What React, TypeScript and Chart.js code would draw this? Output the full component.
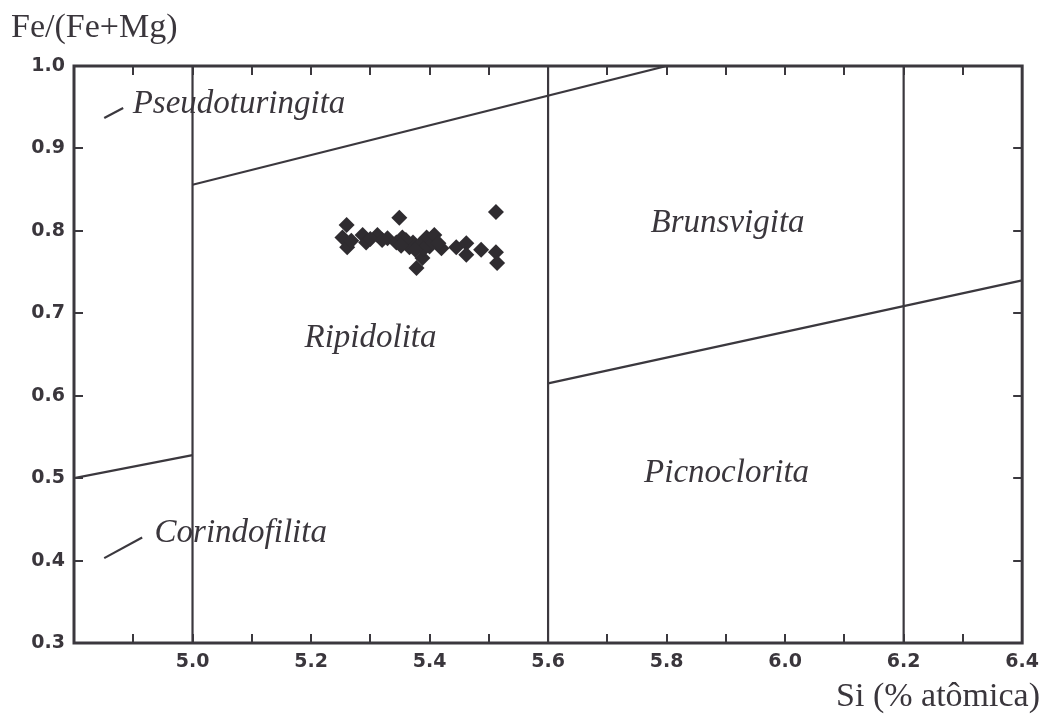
import React, { useEffect, useRef } from "react";
import { Chart, registerables } from "chart.js";

Chart.register(...registerables);

// ---- data ----
const siValues = [5.26, 5.253, 5.261, 5.287, 5.293, 5.349, 5.312, 5.329, 5.344, 5.354, 5.366, 5.378, 5.388, 5.395, 5.405, 5.408, 5.42, 5.445, 5.462, 5.462, 5.487, 5.512, 5.514, 5.512, 5.372, 5.383, 5.4, 5.36, 5.39, 5.3, 5.415, 5.268, 5.32, 5.376, 5.352];
const feValues = [0.807, 0.792, 0.78, 0.795, 0.786, 0.816, 0.795, 0.791, 0.786, 0.792, 0.78, 0.755, 0.767, 0.792, 0.789, 0.795, 0.779, 0.78, 0.785, 0.771, 0.777, 0.774, 0.761, 0.823, 0.786, 0.783, 0.781, 0.789, 0.778, 0.79, 0.785, 0.788, 0.789, 0.777, 0.782];

const xTickLabels = [5.0, 5.2, 5.4, 5.6, 5.8, 6.0, 6.2, 6.4];
const yTickLabels = [0.3, 0.4, 0.5, 0.6, 0.7, 0.8, 0.9, 1.0];

// boundary lines [x0, x1], [y0, y1]
const vLine50X = [5.0, 5.0];
const vLine50Y = [0.3, 1.0];
const vLine56X = [5.6, 5.6];
const vLine56Y = [0.3, 1.0];
const vLine62X = [6.2, 6.2];
const vLine62Y = [0.3, 1.0];
const upperLineX = [5.0, 5.8];
const upperLineY = [0.856, 1.0];
const lowerLeftLineX = [4.8, 5.0];
const lowerLeftLineY = [0.5, 0.528];
const rightLineX = [5.6, 6.4];
const rightLineY = [0.615, 0.74];
const pseudoPointerX = [4.851, 4.883];
const pseudoPointerY = [0.937, 0.949];
const corindoPointerX = [4.851, 4.915];
const corindoPointerY = [0.403, 0.428];

const regionNames = ["Pseudoturingita", "Brunsvigita", "Ripidolita", "Corindofilita", "Picnoclorita"];
const regionX = [4.899, 5.773, 5.189, 4.936, 5.762];
const regionY = [0.943, 0.799, 0.659, 0.422, 0.495];

const yTitle = "Fe/(Fe+Mg)";
const xTitle = "Si (% atômica)";

const LINE = "#3b383e";
const TEXT = "#3a363c";

function seg(xs: number[], ys: number[]) {
  return xs.map((x, i) => ({ x, y: ys[i] }));
}

export default function App() {
  const ref = useRef<HTMLCanvasElement | null>(null);
  useEffect(() => {
    if (!ref.current) return;
    const lineDs = (xs: number[], ys: number[], w = 2.2) => ({
      data: seg(xs, ys),
      showLine: true,
      borderColor: LINE,
      borderWidth: w,
      pointRadius: 0,
      fill: false,
    });
    const overlay = {
      id: "overlay",
      afterDraw(chart: any) {
        const ctx = chart.ctx;
        const xs = chart.scales.x;
        const ys = chart.scales.y;
        const a = chart.chartArea;
        ctx.save();
        ctx.strokeStyle = LINE;
        // ticks inward
        ctx.lineWidth = 2;
        for (let i = 0; i <= 16; i++) {
          const v = 4.8 + i * 0.1;
          const px = Math.round(xs.getPixelForValue(v));
          ctx.beginPath();
          ctx.moveTo(px, a.bottom);
          ctx.lineTo(px, a.bottom - 9);
          ctx.moveTo(px, a.top);
          ctx.lineTo(px, a.top + 9);
          ctx.stroke();
        }
        for (let i = 0; i <= 7; i++) {
          const v = 0.3 + i * 0.1;
          const py = Math.round(ys.getPixelForValue(v));
          ctx.beginPath();
          ctx.moveTo(a.left, py);
          ctx.lineTo(a.left + 9, py);
          ctx.moveTo(a.right, py);
          ctx.lineTo(a.right - 9, py);
          ctx.stroke();
        }
        // frame
        ctx.lineWidth = 3;
        ctx.strokeRect(a.left, a.top, a.right - a.left, a.bottom - a.top);
        // region labels
        ctx.fillStyle = TEXT;
        ctx.font = "italic 33px 'Liberation Serif', 'DejaVu Serif', serif";
        ctx.textBaseline = "alphabetic";
        ctx.textAlign = "left";
        regionNames.forEach((n, i) => {
          ctx.fillText(n, xs.getPixelForValue(regionX[i]), ys.getPixelForValue(regionY[i]));
        });
        // axis titles
        ctx.font = "34px 'Liberation Serif', serif";
        ctx.textAlign = "left";
        ctx.fillText(yTitle, 11, 37);
        ctx.textAlign = "right";
        ctx.fillText(xTitle, 1040, 706);
        ctx.restore();
      },
    };
    const chart = new Chart(ref.current, {
      type: "scatter",
      data: {
        datasets: [
          lineDs(vLine50X, vLine50Y),
          lineDs(vLine56X, vLine56Y),
          lineDs(vLine62X, vLine62Y),
          lineDs(upperLineX, upperLineY),
          lineDs(lowerLeftLineX, lowerLeftLineY),
          lineDs(rightLineX, rightLineY),
          lineDs(pseudoPointerX, pseudoPointerY),
          lineDs(corindoPointerX, corindoPointerY),
          {
            data: seg(siValues, feValues),
            pointStyle: "rectRot",
            pointRadius: 8,
            backgroundColor: "#2f2c30",
            borderColor: "#2f2c30",
            borderWidth: 0,
            showLine: false,
          } as any,
        ],
      },
      options: {
        responsive: false,
        animation: false,
        events: [],
        layout: { padding: { left: 0, top: 66, right: 23, bottom: 0 } },
        plugins: { legend: { display: false }, tooltip: { enabled: false } },
        scales: {
          x: {
            type: "linear",
            min: 4.8,
            max: 6.4,
            afterFit: (s: any) => { s.height = 77; },
            afterBuildTicks: (s: any) => {
              const t = [];
              for (let i = 0; i <= 16; i++) t.push({ value: Math.round((4.8 + i * 0.1) * 10) / 10 });
              s.ticks = t;
            },
            grid: { display: false, drawTicks: false },
            border: { display: false },
            ticks: {
              autoSkip: false,
              maxRotation: 0,
              padding: 8,
              color: TEXT,
              font: { family: "'DejaVu Sans', sans-serif", size: 19, weight: "bold" },
              callback: (v: any) => {
                const n = Math.round(Number(v) * 10) / 10;
                return xTickLabels.includes(n) ? n.toFixed(1) : "";
              },
            },
          },
          y: {
            type: "linear",
            min: 0.3,
            max: 1.0,
            afterFit: (s: any) => { s.width = 74; },
            afterBuildTicks: (s: any) => {
              s.ticks = yTickLabels.map((v) => ({ value: v }));
            },
            grid: { display: false, drawTicks: false },
            border: { display: false },
            ticks: {
              autoSkip: false,
              padding: 9,
              color: TEXT,
              font: { family: "'DejaVu Sans', sans-serif", size: 19, weight: "bold" },
              callback: (v: any) => Number(v).toFixed(1),
            },
          },
        },
      } as any,
      plugins: [overlay],
    });
    return () => chart.destroy();
  }, []);
  return (
    <div style={{ position: "absolute", left: 0, top: 0, width: 1047, height: 720, background: "#fff" }}>
      <canvas ref={ref} width={1047} height={720} style={{ display: "block" }} />
    </div>
  );
}
